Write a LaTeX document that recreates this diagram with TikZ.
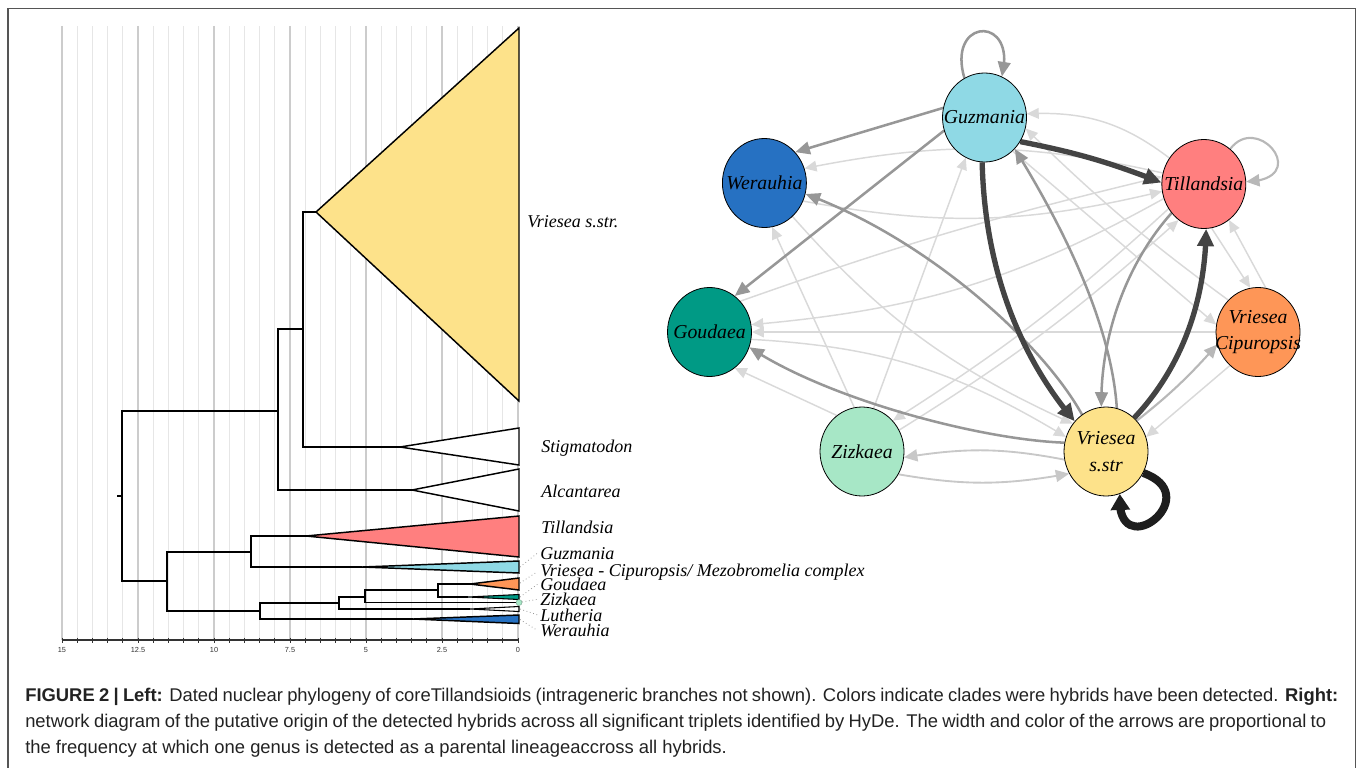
\documentclass[tikz,border=0pt]{standalone}
\usepackage{fontspec}
\setmainfont{Liberation Serif}
\newfontfamily\capfont{Liberation Sans}
\usetikzlibrary{shapes.geometric,arrows.meta,bending}
\pgfdeclarelayer{edgelayer}
\pgfsetlayers{edgelayer,main}
\definecolor{cyel}{HTML}{FDE28A}
\definecolor{cred}{HTML}{FF7F7F}
\definecolor{ccyan}{HTML}{8FD9E5}
\definecolor{corange}{HTML}{FE9657}
\definecolor{cteal}{HTML}{009A85}
\definecolor{cmint}{HTML}{A7E7C6}
\definecolor{cblue}{HTML}{2671C2}
\definecolor{gridmin}{HTML}{E6E6E6}
\definecolor{gridmaj}{HTML}{CCCCCC}
\definecolor{elt}{HTML}{D9D9D9}
\definecolor{eltm}{HTML}{C8C8C8}
\definecolor{emd}{HTML}{979797}
\definecolor{emdl}{HTML}{B8B8B8}
\definecolor{edk}{HTML}{444444}
\definecolor{eblk}{HTML}{1E1E1E}
\definecolor{framecol}{HTML}{555555}
\definecolor{captxt}{HTML}{222222}
\definecolor{axiscol}{HTML}{333333}
\tikzset{
  gnode/.style={ellipse, draw=black, line width=0.6pt, minimum width=63pt, minimum height=66.75pt,
    inner sep=0pt},
  gtext/.style={inner sep=0pt, font=\fontsize{14.8pt}{20pt}\selectfont\itshape, align=center},
  lt/.style={draw=elt, line width=1.1pt, -{Triangle[length=9pt,width=8pt]}},
  ltm/.style={draw=eltm, line width=1.4pt, -{Triangle[length=10pt,width=9pt]}},
  mdl/.style={draw=emdl, line width=1.6pt, -{Triangle[length=10pt,width=9pt]}},
  md/.style={draw=emd, line width=1.9pt, -{Triangle[length=11pt,width=9.5pt]}},
  dk/.style={draw=edk, line width=4pt, -{Triangle[length=13pt,width=12pt]}},
  blk/.style={draw=eblk, line width=6pt, -{Triangle[length=12pt,width=14pt]}},
  br/.style={draw=black, line width=1.1pt, line join=miter},
  tiplab/.style={font=\fontsize{13.5pt}{15pt}\selectfont\itshape, inner sep=0pt, anchor=base west},
  lead/.style={draw=gray!80, dotted, line width=0.6pt},
  ticklab/.style={font=\capfont\fontsize{5.5pt}{6pt}\selectfont, text=axiscol, inner sep=0pt},
  capl/.style={font=\capfont\fontsize{13.8pt}{16pt}\selectfont, text=captxt, inner sep=0pt, anchor=base west}
}
\begin{document}
\begin{tikzpicture}[x=0.75pt,y=-0.75pt]
\useasboundingbox (0,0) rectangle (1358,767);
% frame
\draw[framecol, line width=1.2pt] (8,775) -- (8,8.5) -- (1355.5,8.5) -- (1355.5,775);

% ---------- phylogeny ----------
\foreach \i in {0,...,30} \draw[gridmin, line width=0.7pt] ({518-15.2*\i},26) -- ({518-15.2*\i},640);
\foreach \i in {0,...,6} \draw[gridmaj, line width=0.8pt] ({518-76*\i},26) -- ({518-76*\i},640);
\draw[axiscol, line width=0.8pt] (62,640) -- (518,640);
\foreach \i in {0,...,30} \draw[axiscol, line width=0.6pt] ({518-15.2*\i},637.5) -- ({518-15.2*\i},642.5);
\foreach \i/\l in {0/0,1/2.5,2/5,3/7.5,4/10,5/12.5,6/15}
  \node[ticklab] (tl\i) at ({518-76*\i},650) {\l};

% tree branches
\draw[br] (117,496) -- (122,496);
\draw[br] (278,411) -| (122,581) -- (167,581);
\draw[br] (303,329) -| (278,490) -- (412,490);
\draw[br] (316,212) -| (303,447) -- (400,447);
\draw[br] (251,552) -| (167,611) -- (260,611);
\draw[br] (306,536) -| (251,567) -- (362,567);
\draw[br] (339,603) -| (260,619) -- (413,619);
\draw[br] (365,597) -| (339,609) -- (470,609);
\draw[br] (438,590) -| (365,602.5) -- (518,602.5);
\draw[br] (470,584) -| (438,597) -- (468,597);
% clade triangles
\draw[br, fill=cyel] (316,212) -- (519,28) -- (519,401) -- cycle;
\draw[br, fill=white] (400,447) -- (519,428) -- (519,465) -- cycle;
\draw[br, fill=white] (412,490) -- (519,469) -- (519,511) -- cycle;
\draw[br, fill=cred] (306,536) -- (519,516) -- (519,557) -- cycle;
\draw[br, fill=ccyan] (362,567) -- (519,561) -- (519,573) -- cycle;
\draw[br, fill=corange] (470,584) -- (519,578) -- (519,590) -- cycle;
\draw[br, fill=cteal, line width=0.8pt] (468,597) -- (519,594.5) -- (519,599.5) -- cycle;
\draw[br, fill=white, line width=0.8pt] (470,609) -- (519,606.5) -- (519,611.5) -- cycle;
\draw[br, fill=cblue] (413,619) -- (519,615) -- (519,623.5) -- cycle;
\node[circle, fill=cmint, draw=cmint!70!black, line width=0.3pt, minimum size=4.5pt, inner sep=0pt] (zzc) at (519,602.5) {};

% tip labels
\node[tiplab] (lvss) at (527,227) {Vriesea s.str.};
\node[tiplab] (lsti) at (541,452) {Stigmatodon};
\node[tiplab] (lalc) at (541,497) {Alcantarea};
\node[tiplab] (ltil) at (541,533) {Tillandsia};
\node[tiplab] (lguz) at (540,559) {Guzmania};
\node[tiplab] (lcip) at (540,576) {Vriesea - Cipuropsis/ Mezobromelia complex};
\node[tiplab] (lgou) at (540,590.5) {Goudaea};
\node[tiplab] (lziz) at (540,605.5) {Zizkaea};
\node[tiplab] (llut) at (540,621) {Lutheria};
\node[tiplab] (lwer) at (540,636.5) {Werauhia};
\coordinate (tguz) at (520,567);
\coordinate (tcip) at (520,583);
\coordinate (tgou) at (520,597);
\coordinate (tlut) at (520,609);
\coordinate (twer) at (520,619.5);
\draw[lead] (tguz) -- ([xshift=-2pt]lguz.west);
\draw[lead] (tcip) -- ([xshift=-2pt]lcip.west);
\draw[lead] (tgou) -- ([xshift=-2pt]lgou.west);
\draw[lead] (zzc) -- ([xshift=-2pt]lziz.west);
\draw[lead] (tlut) -- ([xshift=-2pt]llut.west);
\draw[lead] (twer) -- ([xshift=-2pt]lwer.west);

% ---------- network ----------
\node[gnode, fill=ccyan] (guz) at (984.5,117.5) {};
\node[gnode, fill=cblue] (wer) at (764.4,183) {};
\node[gnode, fill=cred] (til) at (1203.8,184) {};
\node[gnode, fill=cteal] (gou) at (709.5,332) {};
\node[gnode, fill=corange] (cip) at (1258,332) {};
\node[gnode, fill=cmint] (ziz) at (862,451.5) {};
\node[gnode, fill=cyel] (vss) at (1106,451.5) {};
\node[gtext] (guzt) at (guz) {Guzmania};
\node[gtext] (wert) at (wer) {Werauhia};
\node[gtext] (tilt) at (til) {Tillandsia};
\node[gtext] (gout) at (gou) {Goudaea};
\node[gtext] (cipt) at (cip) {Vriesea\\Cipuropsis};
\node[gtext] (zizt) at (ziz) {Zizkaea};
\node[gtext] (vsst) at (vss) {Vriesea\\s.str};

\begin{pgfonlayer}{edgelayer}
\draw[lt] (til.143) to[bend right=20] (guz.5);
\draw[lt] (cip.133) to[bend left=4] (guz.-15);
\draw[lt] (guz.-50) to (cip.170);
\draw[lt] (til.165) to[bend right=12] (wer.20);
\draw[lt] (wer.-25) to[bend right=12] (til.190);
\draw[lt] (gou.45) to[bend left=3] (til.170);
\draw[lt] (til.200) to[bend left=12] (gou.10);
\draw[lt] (cip.180) -- (gou.0);
\draw[lt] (gou.-10) to[bend left=14] (vss.160);
\draw[lt] (ziz.125) -- (gou.-55);
\draw[lt] (ziz.100) -- (wer.-80);
\draw[lt] (ziz.75) -- (guz.-115);
\draw[lt] (til.215) to[bend left=5] (ziz.45);
\draw[lt] (wer.-50) to[bend right=12] (vss.140);
\draw[lt] (ziz.30) to[bend right=5] (til.235);
\draw[lt] (cip.80) -- (til.-55);
\draw[lt] (til.-80) -- (cip.100);
\draw[lt] (cip.-130) -- (vss.20);
\draw[ltm] (ziz.-32) to[bend right=10] (vss.211);
\draw[ltm] (vss.191) to[bend right=10] (ziz.-8);
\draw[mdl] (vss.45) to[bend right=5] (cip.197);
\draw[md] (guz.167) -- (wer.45);
\draw[md] (guz.198) -- (gou.55);
\draw[md] (vss.123) .. controls +(-40,-72) and +(122,45) .. (wer.-15);
\draw[md] (vss.168) .. controls +(-84,-3) and +(78,52) .. (gou.-21);
\draw[md] (vss.76) .. controls +(-6,-90) and +(42,68) .. (guz.-46);
\draw[md] (til.222) .. controls +(-42,47) and +(-1,-76) .. (vss.96);
\draw[md] (guz.117) .. controls +(-18,-61) and +(16,-62) .. (guz.67);
\draw[mdl] (til.53) .. controls +(28,-37) and +(67,-2) .. (til.3);
\draw[dk] (guz.-34) to[bend left=5] (til.178);
\draw[dk] (guz.-93) .. controls +(3,127) and +(-41,-48) .. (vss.136);
\draw[dk] (vss.50) .. controls +(35,-37) and +(-1,91) .. (til.-87);
\draw[blk] (vss.-30) .. controls +(65,23) and +(-5,74) .. (vss.-72);
\end{pgfonlayer}

% ---------- caption ----------
\node[capl] (cap1) at (25,701) {\makebox[984.75pt][s]{\textbf{FIGURE 2 | Left:} Dated nuclear phylogeny of coreTillandsioids (intrageneric branches not shown). Colors indicate clades were hybrids have been detected. \textbf{Right:}}};
\node[capl] (cap2) at (25,727) {\makebox[975.75pt][s]{network diagram of the putative origin of the detected hybrids across all significant triplets identified by HyDe. The width and color of the arrows are proportional to}};
\node[capl] (cap3) at (25,753) {the frequency at which one genus is detected as a parental lineageaccross all hybrids.};
\end{tikzpicture}
\end{document}
